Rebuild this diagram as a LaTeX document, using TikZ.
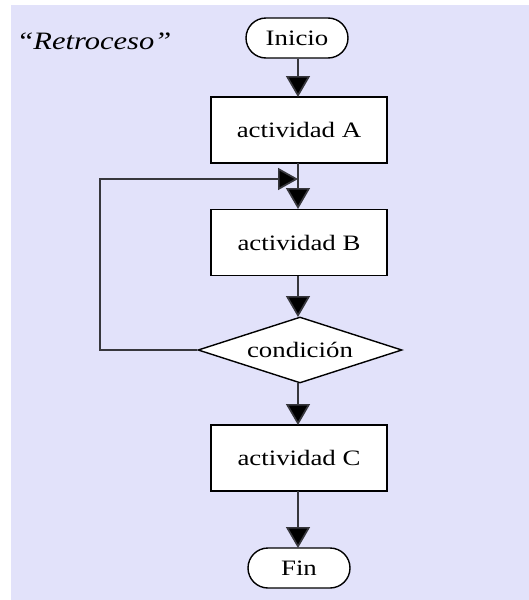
\documentclass[tikz,border=0pt]{standalone}
\usepackage{fontspec}
\setmainfont{Liberation Serif}[FakeStretch=1.22]
\usetikzlibrary{shapes.geometric,arrows.meta}
\definecolor{bgc}{RGB}{226,226,250}
\definecolor{linec}{RGB}{55,55,60}
\begin{document}
\begin{tikzpicture}[x=1pt,y=-1pt,
  txt/.style={font=\fontsize{22}{26}\selectfont},
  proc/.style={draw=black,line width=1.4pt,fill=white,minimum width=176pt,minimum height=66pt,inner sep=0pt,txt},
  term/.style={draw=black,line width=1.4pt,fill=white,rounded corners=20pt,minimum width=102pt,minimum height=40pt,inner sep=0pt,txt},
  dec/.style={diamond,aspect=3.09,draw=black,line width=1.4pt,fill=white,minimum width=204pt,minimum height=66pt,inner sep=0pt,txt},
  flow/.style={draw=linec,line width=1.7pt,-{Triangle[length=21pt,width=24pt,fill=black]}},
  back/.style={draw=linec,line width=1.7pt,-{Triangle[length=20pt,width=22pt,fill=black]}}]
\useasboundingbox (0,0) rectangle (529,600);
\fill[bgc] (11,5) rectangle (529,600);
\node[anchor=base west,font=\fontsize{25}{29}\selectfont\itshape] (title) at (13,49) {“Retroceso”};
\node[term] (ini) at (297,38) {Inicio};
\node[proc] (A) at (299,130) {actividad A};
\node[proc] (B) at (299,242.5) {actividad B};
\node[dec] (cond) at (300,350) {condición};
\node[proc] (C) at (299,458) {actividad C};
\node[term] (fin) at (299,568) {Fin};
\coordinate (j) at (298,179);
\coordinate (k) at (100,179);
\draw[flow] (ini.south -| 298,0) -- (298,97);
\draw[flow] (298,163) -- (298,209);
\draw[back] (cond.west) -| (k) -- (j);
\draw[flow] (298,383) -- (298,425);
\draw[flow] (298,491) -- (298,548);
\draw[flow] (298,276) -- (298,317);
\end{tikzpicture}
\end{document}
